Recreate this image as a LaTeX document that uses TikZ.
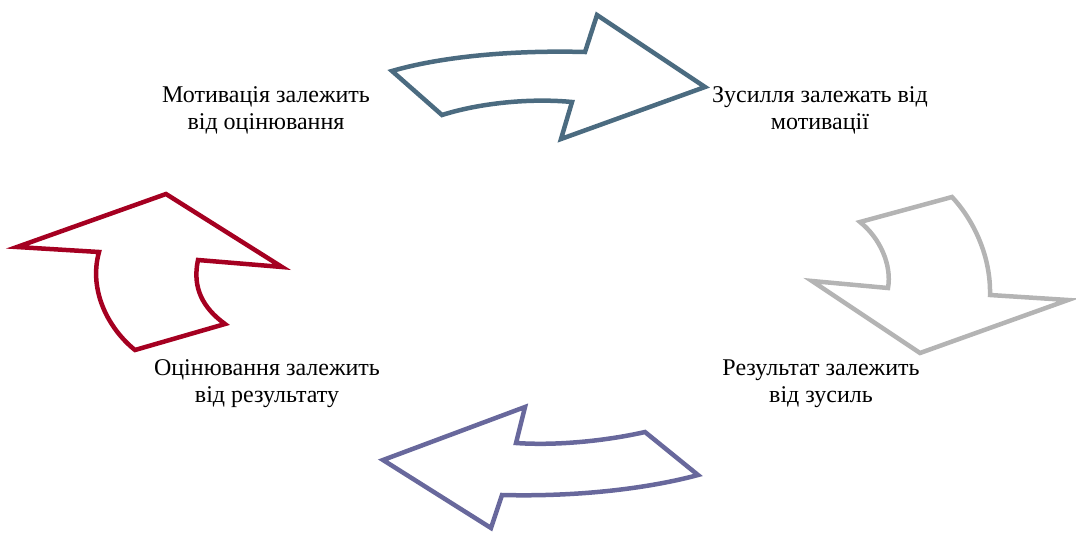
\documentclass[tikz,border=0pt]{standalone}
\usepackage{fontspec}
\setmainfont{Liberation Serif}
\definecolor{arrowblue}{HTML}{4B6B80}
\definecolor{arrowgray}{HTML}{B4B4B4}
\definecolor{arrowviolet}{HTML}{68689C}
\definecolor{arrowred}{HTML}{A50021}
\begin{document}
\begin{tikzpicture}[x=1pt, y=-1pt,
    cyclearrow/.style={line width=4.5pt, line join=miter, miter limit=10},
    steptext/.style={align=center, font=\fontsize{24}{27}\selectfont, inner sep=0pt}]
    \useasboundingbox (0,0) rectangle (1076,533);
    % top arrow
    \draw[cyclearrow, arrowblue] (392,71) .. controls (440,57) and (510,50) .. (585,52)
        -- (597,15) -- (705,87) -- (561,139) -- (572,102)
        .. controls (530,98) and (480,103) .. (442,115) -- cycle;
    % right arrow
    \draw[cyclearrow, arrowgray] (860,222) -- (952,197)
        .. controls (970,216) and (991,252) .. (990,295) -- (1068,300) -- (920,353)
        -- (812,281) -- (888,288) .. controls (892,265) and (880,238) .. cycle;
    % bottom arrow
    \draw[cyclearrow, arrowviolet] (645,432) -- (698,475)
        .. controls (650,488) and (580,497) .. (502,495) -- (491,528) -- (383,460)
        -- (525,407) -- (516,443) .. controls (560,446) and (610,440) .. cycle;
    % left arrow
    \draw[cyclearrow, arrowred] (166,194) -- (282,267) -- (198,260)
        .. controls (192,288) and (203,308) .. (225,324) -- (135,350)
        .. controls (110,330) and (88,292) .. (99,252) -- (17,247) -- cycle;
    % labels
    \node[steptext] (motivation) at (266,110) {Мотивація залежить\\від оцінювання};
    \node[steptext] (effort) at (820,110) {Зусилля залежать від\\мотивації};
    \node[steptext] (result) at (821,384) {Результат залежить\\від зусиль};
    \node[steptext] (assessment) at (267,384) {Оцінювання залежить\\від результату};
\end{tikzpicture}
\end{document}
